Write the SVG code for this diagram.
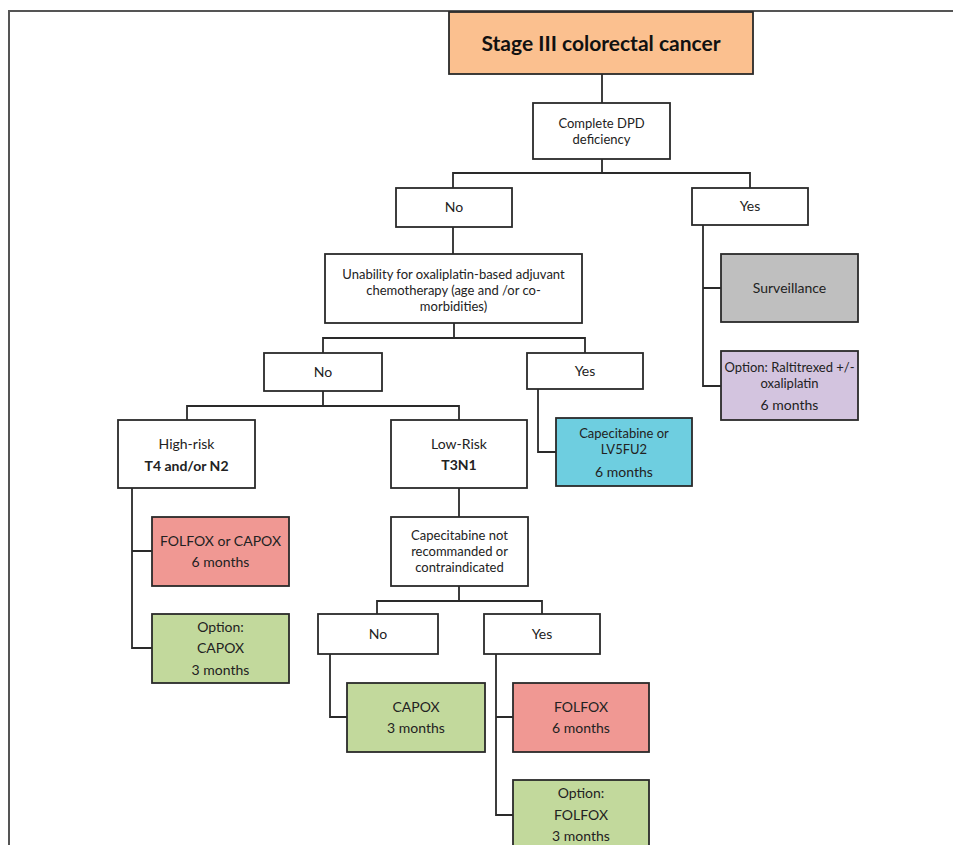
<svg xmlns="http://www.w3.org/2000/svg" width="953" height="845" viewBox="0 0 953 845">
<style>
  .box{stroke:#2a2a2a;stroke-width:1.8;fill:#ffffff}
  .peach{fill:#FBC08F}
  .gray{fill:#BFBFBF}
  .lav{fill:#D3C4DF}
  .cyan{fill:#6ECEE0}
  .pink{fill:#F09893}
  .green{fill:#C2D99C}
  text{font-family:Lato,"Liberation Sans",sans-serif;font-size:14px;fill:#222;text-anchor:middle}
  .s{font-size:13px}
  .b{font-weight:bold}
  .title{font-size:21px;font-weight:bold;fill:#111}
  .conn path{fill:none;stroke:#2a2a2a;stroke-width:1.8}
  .frame{fill:none;stroke:#555;stroke-width:2}
</style>
<rect width="953" height="845" fill="#ffffff"/>
<path class="frame" d="M9,845 V11 H953"/>
<g class="conn" id="connectors">
  <path d="M602,74 V103"/>
  <path d="M602,159 V173 M453,188 V173 H750 V188"/>
  <path d="M453,227 V254"/>
  <path d="M703,225 V386 H721 M703,288 H721"/>
  <path d="M454,323 V338 M323,353 V338 H585 V353"/>
  <path d="M323,391 V406 M187,420 V406 H459 V420"/>
  <path d="M538,389 V452 H556"/>
  <path d="M132,488 V648 H152 M132,551 H152"/>
  <path d="M459,488 V517"/>
  <path d="M459,586 V601 M377,614 V601 H542 V614"/>
  <path d="M330,654 V717 H347"/>
  <path d="M496,654 V815 H513 M496,717 H513"/>
</g>
<g id="stage3">
  <rect class="box peach" x="449" y="12" width="304" height="62"/>
  <text class="title" x="601" y="51">Stage III colorectal cancer</text>
</g>
<g id="dpd">
  <rect class="box" x="533" y="103" width="137" height="56"/>
  <text class="s" x="601.5" y="128">Complete DPD</text>
  <text class="s" x="601.5" y="144">deficiency</text>
</g>
<g id="no1">
  <rect class="box" x="396" y="188" width="116" height="39"/>
  <text x="454" y="212">No</text>
</g>
<g id="yes1">
  <rect class="box" x="692" y="188" width="116" height="37"/>
  <text x="750" y="211">Yes</text>
</g>
<g id="surveillance">
  <rect class="box gray" x="721" y="254" width="137" height="68"/>
  <text x="789.5" y="293">Surveillance</text>
</g>
<g id="raltitrexed">
  <rect class="box lav" x="721" y="351" width="137" height="69"/>
  <text class="s" x="789.5" y="372">Option: Raltitrexed +/-</text>
  <text class="s" x="789.5" y="388">oxaliplatin</text>
  <text x="789.5" y="410">6 months</text>
</g>
<g id="unability">
  <rect class="box" x="325" y="254" width="257" height="69"/>
  <text class="s" x="453.5" y="279">Unability for oxaliplatin-based adjuvant</text>
  <text class="s" x="453.5" y="295">chemotherapy (age and /or co-</text>
  <text class="s" x="453.5" y="311">morbidities)</text>
</g>
<g id="no2">
  <rect class="box" x="264" y="353" width="118" height="38"/>
  <text x="323" y="377">No</text>
</g>
<g id="yes2">
  <rect class="box" x="527" y="353" width="116" height="36"/>
  <text x="585" y="376">Yes</text>
</g>
<g id="highrisk">
  <rect class="box" x="118" y="420" width="137" height="68"/>
  <text x="186.5" y="449">High-risk</text>
  <text class="b" x="186.5" y="471">T4 and/or N2</text>
</g>
<g id="lowrisk">
  <rect class="box" x="391" y="420" width="136" height="68"/>
  <text x="459" y="449">Low-Risk</text>
  <text class="b" x="459" y="470">T3N1</text>
</g>
<g id="capecitabine-lv5fu2">
  <rect class="box cyan" x="556" y="418" width="136" height="68"/>
  <text class="s" x="624" y="438">Capecitabine or</text>
  <text class="s" x="624" y="454">LV5FU2</text>
  <text x="624" y="477">6 months</text>
</g>
<g id="folfox-capox">
  <rect class="box pink" x="152" y="517" width="137" height="69"/>
  <text x="220.5" y="546">FOLFOX or CAPOX</text>
  <text x="220.5" y="567">6 months</text>
</g>
<g id="option-capox">
  <rect class="box green" x="152" y="614" width="137" height="69"/>
  <text x="220.5" y="632">Option:</text>
  <text x="220.5" y="653">CAPOX</text>
  <text x="220.5" y="675">3 months</text>
</g>
<g id="capecitabine-not">
  <rect class="box" x="391" y="517" width="137" height="69"/>
  <text class="s" x="459.5" y="540">Capecitabine not</text>
  <text class="s" x="459.5" y="556">recommanded or</text>
  <text class="s" x="459.5" y="572">contraindicated</text>
</g>
<g id="no3">
  <rect class="box" x="318" y="614" width="120" height="40"/>
  <text x="378" y="639">No</text>
</g>
<g id="yes3">
  <rect class="box" x="484" y="614" width="116" height="40"/>
  <text x="542" y="639">Yes</text>
</g>
<g id="capox">
  <rect class="box green" x="347" y="683" width="138" height="69"/>
  <text x="416" y="712">CAPOX</text>
  <text x="416" y="733">3 months</text>
</g>
<g id="folfox">
  <rect class="box pink" x="513" y="683" width="136" height="69"/>
  <text x="581" y="712">FOLFOX</text>
  <text x="581" y="733">6 months</text>
</g>
<g id="option-folfox">
  <rect class="box green" x="513" y="780" width="136" height="80"/>
  <text x="581" y="798">Option:</text>
  <text x="581" y="820">FOLFOX</text>
  <text x="581" y="841">3 months</text>
</g>
</svg>
